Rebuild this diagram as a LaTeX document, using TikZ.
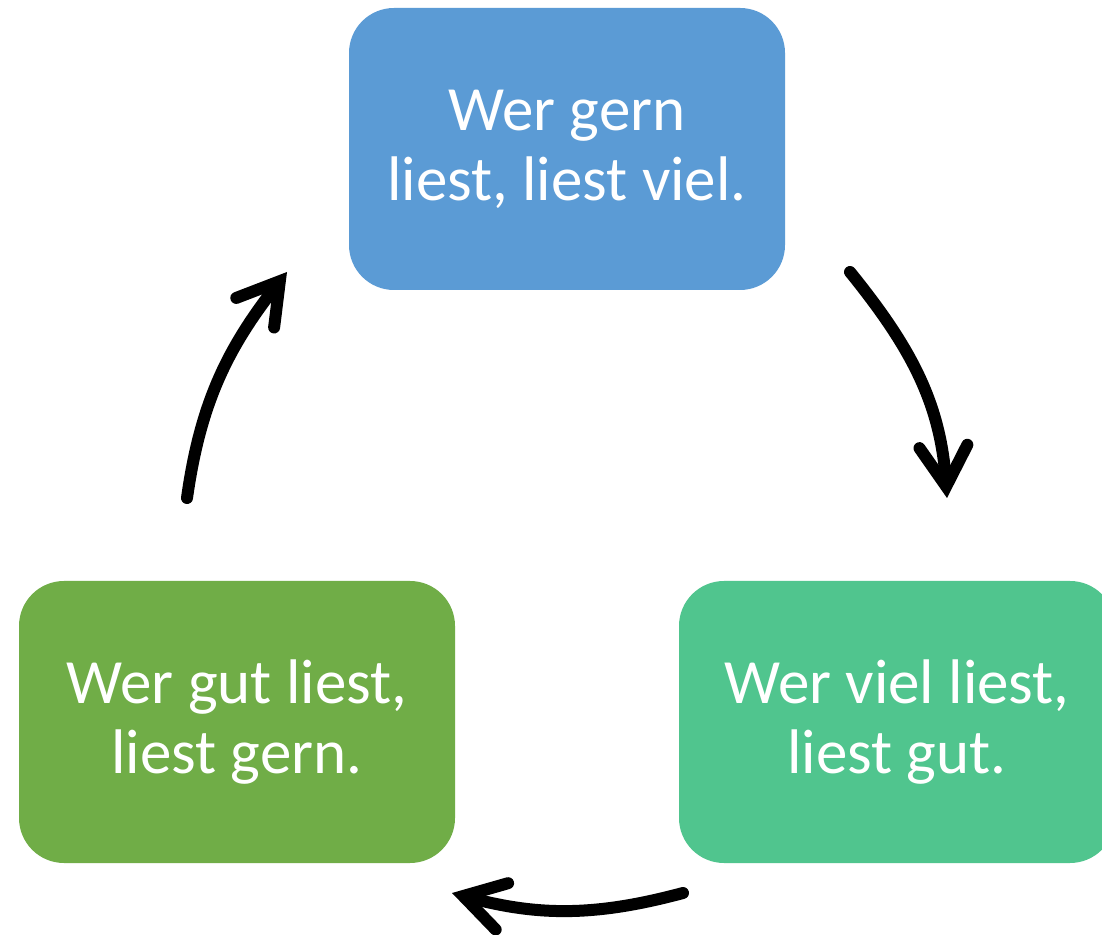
\documentclass[tikz,border=0pt]{standalone}
\usepackage{fontspec}
\setmainfont{Carlito}
\usetikzlibrary{arrows.meta}
\definecolor{cblue}{HTML}{5B9BD5}
\definecolor{cgreen}{HTML}{70AD47}
\definecolor{cteal}{HTML}{50C58E}
\tikzset{
  box/.style={rectangle, rounded corners=45pt, minimum width=436pt, minimum height=282pt,
    inner sep=0pt, text=white, align=center,
    font=\fontsize{63pt}{70pt}\selectfont},
  cyc/.style={line width=12pt, line cap=round,
    -{Straight Barb[length=40pt, width=48pt, line cap=round, line join=miter]}}
}
\begin{document}
\begin{tikzpicture}[x=1pt,y=1pt]
\clip (0,0) rectangle (1102,934);
\fill[white] (0,0) rectangle (1102,934);
\node[box, fill=cblue] (top) at (567,785) {Wer gern\\liest, liest viel.};
\node[box, fill=cteal] (right) at (897,212) {Wer viel liest,\\liest gut.};
\node[box, fill=cgreen] (left) at (237,212) {Wer gut liest,\\liest gern.};
\coordinate (a1s) at (850,662);
\coordinate (a1e) at (947,436);
\coordinate (a2s) at (683,41);
\coordinate (a2e) at (452,41);
\coordinate (a3s) at (187,436);
\coordinate (a3e) at (287,662);
\draw[cyc] (a1s) to[out=-51, in=94] (a1e);
\draw[cyc] (a2s) to[out=195, in=-15] (a2e);
\draw[cyc] (a3s) to[out=82, in=-128] (a3e);
\end{tikzpicture}
\end{document}
